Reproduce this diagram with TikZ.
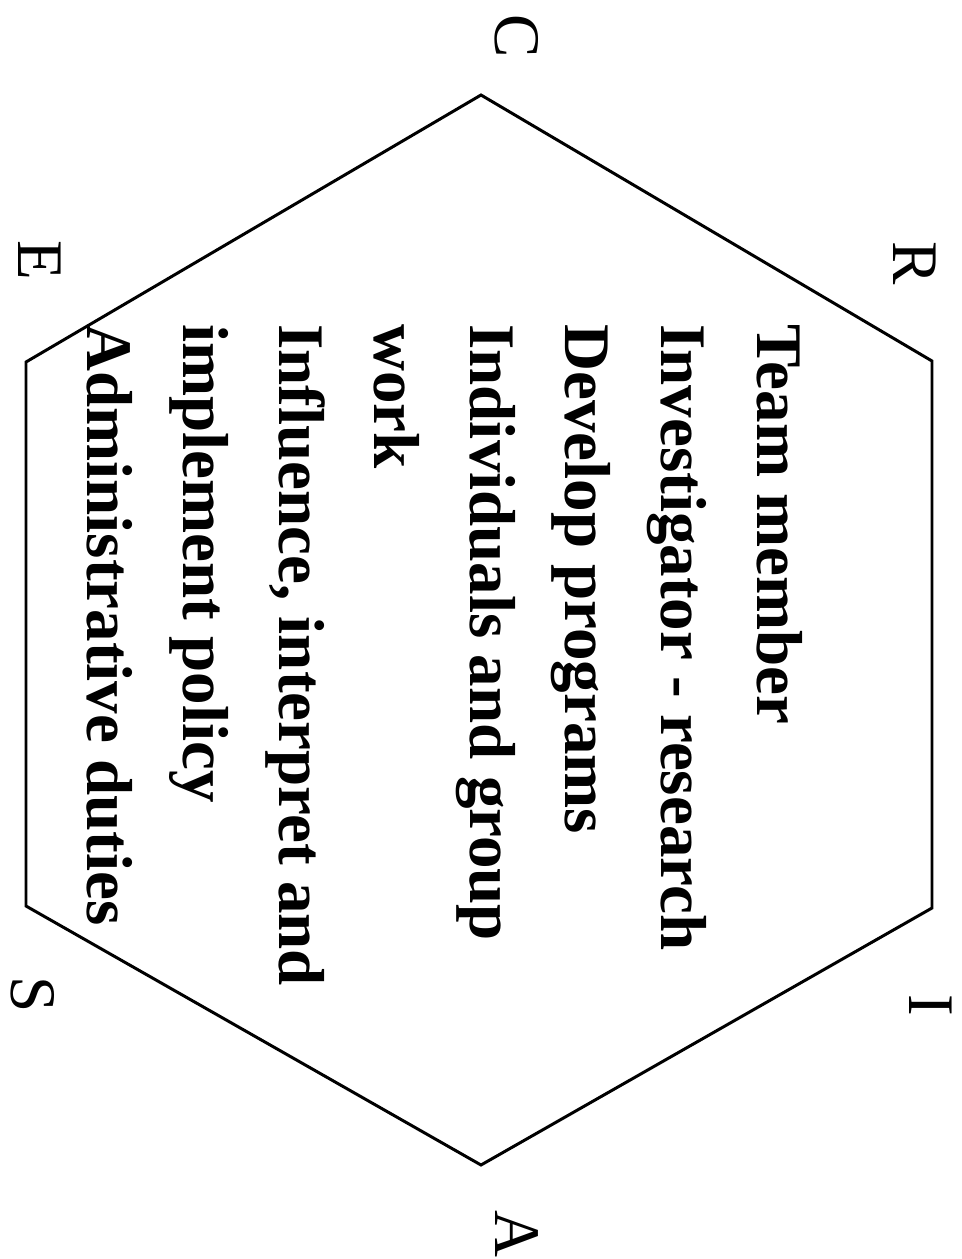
\documentclass[tikz,border=0pt]{standalone}
\usepackage{fontspec}
\setmainfont{Liberation Serif}
\begin{document}
\begin{tikzpicture}[x=0.02cm,y=-0.02cm,
  hexline/.style={line width=1.7pt,line join=miter},
  corner/.style={rotate=-90,inner sep=0pt,font=\fontsize{37}{44}\selectfont},
  duty/.style={rotate=-90,inner sep=0pt,anchor=base west,
    font=\fontsize{37}{44}\selectfont\bfseries}]
  \useasboundingbox (0,0) rectangle (962,1259);
  % hexagon corners
  \coordinate (hC) at (481,95);
  \coordinate (hR) at (932,361);
  \coordinate (hI) at (932,908);
  \coordinate (hA) at (481,1165);
  \coordinate (hS) at (26,906);
  \coordinate (hE) at (26,362);
  \draw[hexline] (hC)--(hR)--(hI)--(hA)--(hS)--(hE)--cycle;

  \node[corner] (C) at (517,36) {C};
  \node[corner] (R) at (915,263) {R};
  \node[corner] (I) at (931,1005) {I};
  \node[corner] (A) at (517,1234) {A};
  \node[corner] (S) at (33,995) {S};
  \node[corner] (E) at (40,260) {E};

  % duties, one per line
  \foreach \txt [count=\i] in {Team member,Investigator - research,
      Develop programs,Individuals and group,work,
      {Influence, interpret and},implement policy,Administrative duties}
    \node[duty] (d\i) at ({757-(\i-1)*95.6},324) {\txt};
\end{tikzpicture}
\end{document}
